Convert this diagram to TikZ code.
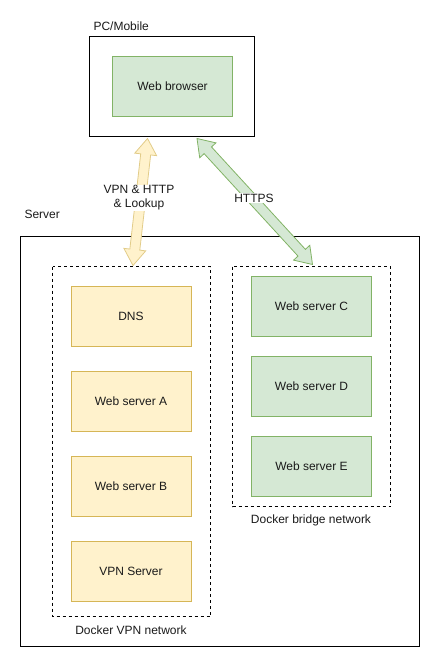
\documentclass[tikz,border=0pt]{standalone}
\usepackage{fontspec}
\setmainfont{Liberation Sans}
\usetikzlibrary{calc}
\definecolor{yfill}{HTML}{FFF2CC}
\definecolor{ystroke}{HTML}{D6B656}
\definecolor{gfill}{HTML}{D5E8D4}
\definecolor{gstroke}{HTML}{82B366}
\definecolor{txt}{HTML}{1A1A1A}
\newcommand\flexarr[3]{%
 \coordinate (#1h1) at ($(#1)!16pt!(#2)$);
 \coordinate (#1h2) at ($(#2)!16pt!(#1)$);
 \draw[#3] (#1) -- ($(#1h1)!11pt!90:(#2)$) -- ($(#1h1)!5pt!90:(#2)$)
   -- ($(#1h2)!5pt!-90:(#1)$) -- ($(#1h2)!11pt!-90:(#1)$) -- (#2)
   -- ($(#1h2)!11pt!90:(#1)$) -- ($(#1h2)!5pt!90:(#1)$)
   -- ($(#1h1)!5pt!-90:(#2)$) -- ($(#1h1)!11pt!-90:(#2)$) -- cycle;}
\begin{document}
\begin{tikzpicture}[x=1pt,y=-1pt,
  every node/.style={font=\fontsize{12}{14}\selectfont, text=txt},
  outer/.style={draw=black, line width=0.9pt},
  dbox/.style={draw=black, line width=0.8pt, dash pattern=on 3pt off 3pt},
  ybox/.style={draw=ystroke, fill=yfill, line width=0.9pt, minimum width=120pt, minimum height=60pt, inner sep=0pt},
  gbox/.style={draw=gstroke, fill=gfill, line width=0.9pt, minimum width=120pt, minimum height=60pt, inner sep=0pt},
  yarr/.style={draw=ystroke!70, fill=yfill, line width=0.8pt, line join=miter},
  garr/.style={draw=gstroke, fill=gfill, line width=0.8pt, line join=miter},
  lbl/.style={fill=white, inner sep=1pt, align=center}]
\useasboundingbox (0,0) rectangle (440,667);
% containers
\draw[outer] (89.5,36.5) rectangle (254.5,136.5);
\node[anchor=west] (pclbl) at (90,26) {PC/Mobile};
\draw[outer] (20.5,236.5) rectangle (419.5,646.5);
\node[anchor=west] (srvlbl) at (21,214) {Server};
\draw[dbox] (52.5,266.5) rectangle (210.5,616.5);
\node (vpnlbl) at (131,630) {Docker VPN network};
\draw[dbox] (232.5,266.5) rectangle (390.5,506.5);
\node (brlbl) at (311,520) {Docker bridge network};
% nodes
\node[gbox] (browser) at (172.5,86.5) {Web browser};
\node[ybox] (dns) at (131,316.5) {DNS};
\node[ybox] (wsa) at (131,401.5) {Web server A};
\node[ybox] (wsb) at (131,486.5) {Web server B};
\node[ybox] (vpn) at (131,571.5) {VPN Server};
\node[gbox] (wsc) at (311.5,306) {Web server C};
\node[gbox] (wsd) at (311.5,386) {Web server D};
\node[gbox] (wse) at (311.5,466) {Web server E};
% arrows
\coordinate (ya) at (147.5,138.5);
\coordinate (yb) at (133,265.5);
\coordinate (ga) at (197,138.5);
\coordinate (gb) at (312.5,264.5);
\flexarr{ya}{yb}{yarr}
\flexarr{ga}{gb}{garr}
\node[lbl] (ylbl) at (139,198) {VPN \& HTTP\\\& Lookup};
\node[lbl] (glbl) at (254,198) {HTTPS};
\end{tikzpicture}
\end{document}
